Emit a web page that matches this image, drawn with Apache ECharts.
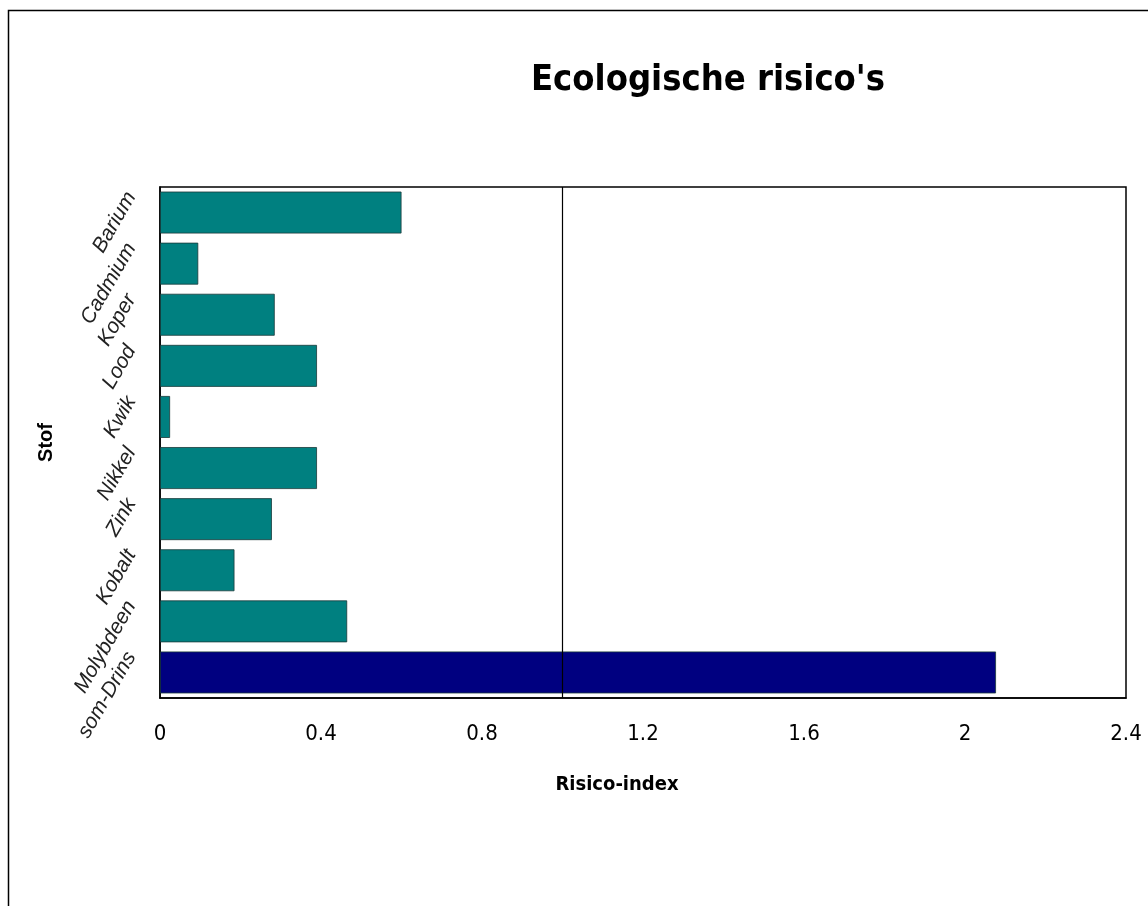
<!DOCTYPE html>
<html><head><meta charset="utf-8">
<script src="https://cdn.jsdelivr.net/npm/echarts@6/dist/echarts.min.js"></script>
<style>html,body{margin:0;padding:0;background:#fff}#c{width:1148px;height:906px}</style>
</head><body><div id="c"></div>
<script>
const categories = ['Barium','Cadmium','Koper','Lood','Kwik','Nikkel','Zink','Kobalt','Molybdeen','som-Drins'];
const values = [0.60, 0.095, 0.285, 0.39, 0.025, 0.39, 0.278, 0.185, 0.465, 2.077];
const barColors = ['#008080','#008080','#008080','#008080','#008080','#008080','#008080','#008080','#008080','#000080'];
const xTicks = {min: 0, max: 2.4, interval: 0.4};
const refLine = 1.0;

const chart = echarts.init(document.getElementById('c'));
const narrow = '"Liberation Sans Narrow", "DejaVu Sans Condensed", "Arial Narrow", sans-serif';
chart.setOption({
  animation: false,
  backgroundColor: '#fff',
  graphic: [{type:'rect', shape:{x:8.5,y:10.5,width:1150,height:900}, style:{fill:null, stroke:'#000', lineWidth:1.5}, silent:true}],
  title: {text: "Ecologische risico's", left: 703, top: 58, textAlign: 'center',
    textStyle: {fontFamily: narrow, fontSize: 36, fontWeight: 'bold', color: '#000'}},
  grid: {left: 160, top: 187, right: 22, bottom: 208, show: true, borderColor: '#000', borderWidth: 1.5, backgroundColor: 'transparent'},
  xAxis: {type: 'value', min: xTicks.min, max: xTicks.max, interval: xTicks.interval,
    name: 'Risico-index', nameLocation: 'middle', nameGap: 77,
    nameTextStyle: {fontFamily: narrow, fontSize: 20, fontWeight: 'bold', color: '#000', padding: [0, 52, 0, 0]},
    axisLine: {show: true, lineStyle: {color: '#000', width: 1.5}}, axisTick: {show: false}, splitLine: {show: false},
    axisLabel: {fontFamily: narrow, fontSize: 22, color: '#000', margin: 25}},
  yAxis: {type: 'category', data: categories, inverse: true,
    name: 'Stof', nameLocation: 'middle', nameGap: 104, nameMoveOverlap: false,
    nameTextStyle: {fontFamily: 'Arial, "Liberation Sans", sans-serif', fontSize: 20, fontWeight: 'bold', color: '#000'},
    axisLine: {show: true, lineStyle: {color: '#000', width: 1.5}}, axisTick: {show: false},
    axisLabel: {rotate: 60, interval: 0, hideOverlap: false, fontStyle: 'italic',
      fontFamily: 'Arial, "Liberation Sans", sans-serif', fontSize: 21, color: '#222',
      margin: -4, lineHeight: 76, formatter: (v) => v + '\n '}},
  series: [{type: 'bar', barCategoryGap: '18%',
    data: values.map((v, i) => ({value: v, itemStyle: {color: barColors[i]}})),
    itemStyle: {borderColor: '#1a3a3a', borderWidth: 0.8},
    markLine: {silent: true, symbol: 'none', label: {show: false},
      lineStyle: {color: '#000', width: 1.2, type: 'solid'}, data: [{xAxis: refLine}]}}]
});
</script></body></html>
